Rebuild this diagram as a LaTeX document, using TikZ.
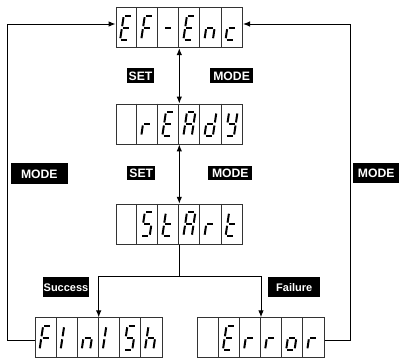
\documentclass[tikz,border=0pt]{standalone}
\usepackage{fontspec}
\setmainfont{Liberation Sans}
\usetikzlibrary{arrows.meta,calc}
% seven-segment pieces (local frame, y downwards)
\def\svsa{(-3,-12)--(3,-12)}
\def\svsb{(4.2,-10.5)--(4.2,-1.5)}
\def\svsc{(4.2,1.5)--(4.2,10.5)}
\def\svsd{(-3,12)--(3,12)}
\def\svse{(-4.2,1.5)--(-4.2,10.5)}
\def\svsf{(-4.2,-10.5)--(-4.2,-1.5)}
\def\svsg{(-3,0)--(3,0)}
\def\svsx{(0,0)}
\newcommand\drawdisp[2]{%
  \foreach \k in {1,...,5}
    \draw[cellline] ($(#1.north west)+({\k*21.08},0)$) -- ($(#1.south west)+({\k*21.08},0)$);
  \foreach \cells [count=\i] in {#2} {%
    \begin{scope}[shift={($(#1.west)+({(\i-0.5)*21.08},0)$)}, xslant=0.15]
      \foreach \s in \cells {\edef\tmp{\noexpand\draw[seg] \csname svs\s\endcsname;}\tmp}
    \end{scope}
  }%
}
\begin{document}
\begin{tikzpicture}[x=1pt,y=-1pt,
  disp/.style={draw=black!80, line width=0.9pt, minimum width=126.5pt, minimum height=40pt, inner sep=0pt},
  cellline/.style={draw=black!80, line width=0.9pt},
  seg/.style={line width=2pt, line cap=butt, black},
  ln/.style={line width=1pt, black},
  tip/.style={-{Latex[length=7pt,width=5.5pt]}},
  dbl/.style={{Latex[length=7pt,width=5.5pt]}-{Latex[length=7pt,width=5.5pt]}},
  lab/.style={fill=black, text=white, inner sep=0pt, font=\bfseries\fontsize{12.2}{12.2}\selectfont, text height=8.8pt, text depth=0pt},
  slab/.style={fill=black, text=white, inner sep=0pt, font=\bfseries\fontsize{11}{11}\selectfont, text height=7.9pt, text depth=0pt}
]
\useasboundingbox (0,0) rectangle (399,359);

% displays
\node[disp] (efenc) at (179.3,27.7) {};
\node[disp] (ready) at (179.3,124) {};
\node[disp] (start) at (179.3,224.2) {};
\node[disp] (finish) at (98.7,337.8) {};
\node[disp] (error) at (261,337.8) {};

\drawdisp{efenc}{{a,d,e,f,g},{a,e,f,g},{g},{a,d,e,f,g},{c,e,g},{d,e,g}}
\drawdisp{ready}{{x},{e,g},{a,d,e,f,g},{a,b,c,e,f,g},{b,c,d,e,g},{b,c,d,f,g}}
\drawdisp{start}{{x},{a,c,d,f,g},{d,e,f,g},{a,b,c,e,f,g},{e,g},{d,e,f,g}}
\drawdisp{finish}{{a,e,f,g},{e,f},{c,e,g},{e,f},{a,c,d,f,g},{c,e,f,g}}
\drawdisp{error}{{x},{a,d,e,f,g},{e,g},{e,g},{c,d,e,g},{e,g}}

% labels
\node[lab, minimum width=27.5pt, minimum height=15pt] (set1) at (140.5,75.8) {SET};
\node[lab, minimum width=43.5pt, minimum height=15pt] (mode1) at (231.6,75.8) {MODE};
\node[lab, minimum width=28pt, minimum height=14.5pt] (set2) at (141.3,173) {SET};
\node[lab, minimum width=44pt, minimum height=14.5pt] (mode2) at (230.3,173) {MODE};
\node[lab, minimum width=56.7pt, minimum height=20.7pt] (modeL) at (39.3,173.6) {MODE};
\node[lab, minimum width=45.7pt, minimum height=20.3pt] (modeR) at (376.2,173.2) {MODE};
\node[slab, minimum width=46.7pt, minimum height=20pt] (succ) at (66,287.3) {Success};
\node[slab, minimum width=51.7pt, minimum height=20pt] (fail) at (294.2,287.3) {Failure};

% connectors
\draw[ln,dbl] (efenc.south) -- (ready.north);
\draw[ln,dbl] (ready.south) -- (start.north);
\coordinate (sp) at (179.3,276.7);
\draw[ln] (start.south) -- (sp);
\draw[ln,tip] (sp) -| (finish.north);
\draw[ln,tip] (sp) -| (error.north);
\coordinate (lb) at (7.3,340.7);
\coordinate (lt) at (7.3,24);
\draw[ln,tip] (finish.west|-lb) -- (lb) -- (lt) -- (efenc.west|-lt);
\coordinate (rb) at (350.7,340.7);
\coordinate (rt) at (350.7,24);
\draw[ln,tip] (error.east|-rb) -- (rb) -- (rt) -- (efenc.east|-rt);
\end{tikzpicture}
\end{document}
